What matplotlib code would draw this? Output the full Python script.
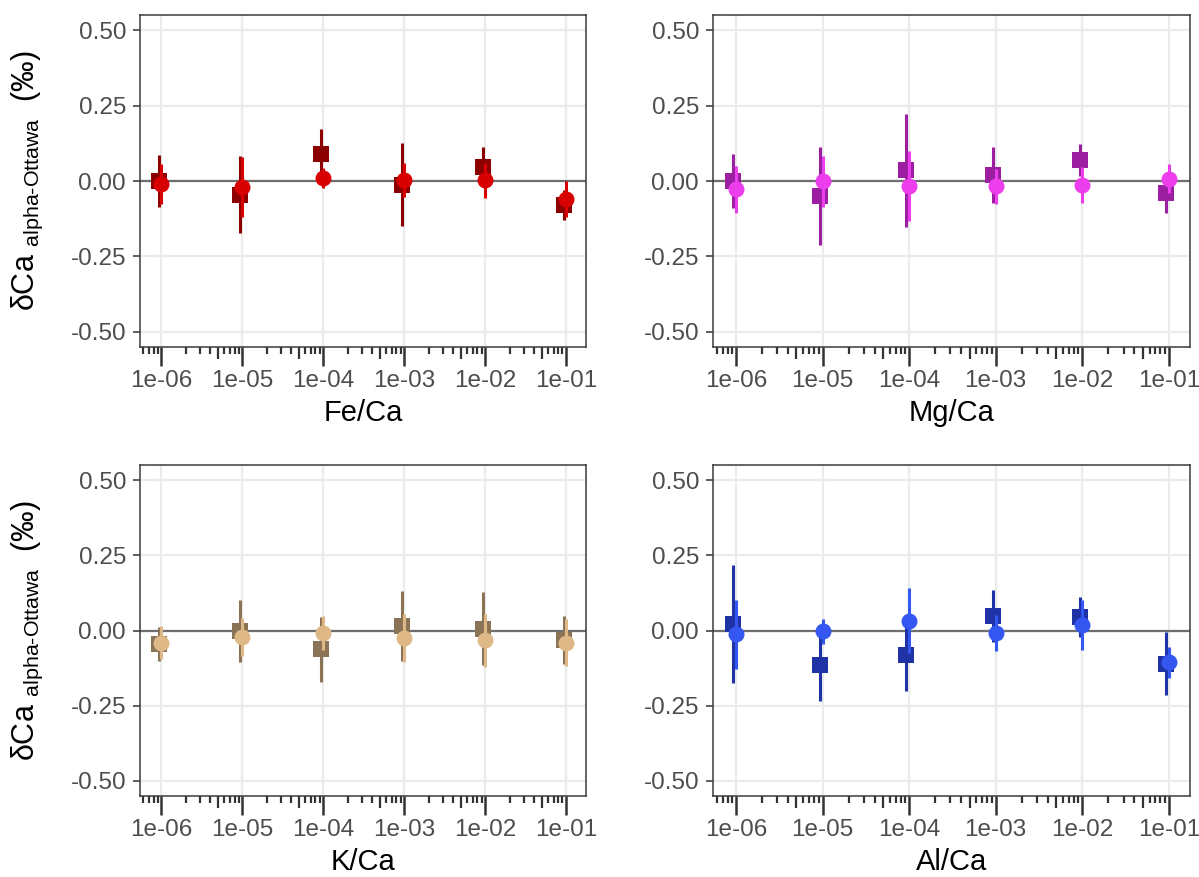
import numpy as np
import matplotlib
matplotlib.use('Agg')
import matplotlib.pyplot as plt
from matplotlib.ticker import FixedLocator, LogLocator, FuncFormatter, NullFormatter

plt.rcParams['font.family'] = ['Liberation Sans', 'DejaVu Sans']
plt.rcParams['mathtext.fontset'] = 'custom'
plt.rcParams['mathtext.rm'] = 'Liberation Sans'
plt.rcParams['axes.unicode_minus'] = False

# x positions (element/Ca ratio) shared by all panels
ratio = [1e-6, 1e-5, 1e-4, 1e-3, 1e-2, 1e-1]

# Fe/Ca
fe_sq = [0.00, -0.045, 0.088, -0.012, 0.047, -0.079]
fe_sq_err = [0.086, 0.127, 0.083, 0.137, 0.066, 0.050]
fe_ci = [-0.010, -0.020, 0.009, 0.003, 0.002, -0.059]
fe_ci_err = [0.065, 0.100, 0.033, 0.055, 0.057, 0.060]

# Mg/Ca
mg_sq = [0.000, -0.050, 0.036, 0.019, 0.069, -0.041]
mg_sq_err = [0.088, 0.161, 0.187, 0.092, 0.052, 0.064]
mg_ci = [-0.028, -0.001, -0.017, -0.018, -0.012, 0.008]
mg_ci_err = [0.077, 0.085, 0.117, 0.058, 0.060, 0.047]

# K/Ca
k_sq = [-0.044, -0.003, -0.063, 0.015, 0.006, -0.031]
k_sq_err = [0.057, 0.103, 0.108, 0.117, 0.121, 0.079]
k_ci = [-0.041, -0.022, -0.009, -0.025, -0.033, -0.041]
k_ci_err = [0.055, 0.063, 0.057, 0.080, 0.088, 0.078]

# Al/Ca
al_sq = [0.022, -0.114, -0.083, 0.048, 0.046, -0.110]
al_sq_err = [0.195, 0.119, 0.118, 0.086, 0.066, 0.106]
al_ci = [-0.013, -0.003, 0.033, -0.007, 0.018, -0.106]
al_ci_err = [0.115, 0.042, 0.109, 0.060, 0.084, 0.051]

y_ticks = [-0.50, -0.25, 0.00, 0.25, 0.50]
ylabel = r'δCa $_{\text{alpha-Ottawa}}$  (‰)'

panels = [
    ('Fe/Ca', fe_sq, fe_sq_err, fe_ci, fe_ci_err, '#8B0000', '#D80000'),
    ('Mg/Ca', mg_sq, mg_sq_err, mg_ci, mg_ci_err, '#9C1FA2', '#EC3EEC'),
    ('K/Ca', k_sq, k_sq_err, k_ci, k_ci_err, '#8B7355', '#DEB887'),
    ('Al/Ca', al_sq, al_sq_err, al_ci, al_ci_err, '#1F33A6', '#3357F0'),
]

W, H = 1199, 877
fig = plt.figure(figsize=(W / 100, H / 100), dpi=100)
# panel boxes in pixels: left, top, right, bottom
boxes = [(140, 15, 586, 347), (713, 15, 1190, 347),
         (140, 465, 586, 796), (713, 465, 1190, 796)]

tick_col = '#333333'
for i, (name, sq, sq_e, ci, ci_e, c_sq, c_ci) in enumerate(panels):
    l, t, r, b = boxes[i]
    ax = fig.add_axes([l / W, 1 - b / H, (r - l) / W, (b - t) / H])
    ax.set_xscale('log')
    ax.set_xlim(10 ** -6.265, 10 ** -0.755)
    ax.set_ylim(-0.55, 0.55)

    ax.axhline(0, color='#6E6E6E', lw=1.6, zorder=1)
    x = np.array(ratio)
    xs = x * 10 ** -0.03
    ax.errorbar(xs, sq, yerr=sq_e, fmt='s', color=c_sq, ms=11.5, mew=0,
                elinewidth=2.2, capsize=0, zorder=3)
    ax.errorbar(x, ci, yerr=ci_e, fmt='o', color=c_ci, ms=11.5, mew=0,
                elinewidth=2.2, capsize=0, zorder=4)

    # axes / grid
    ax.yaxis.set_major_locator(FixedLocator(y_ticks))
    ax.yaxis.set_major_formatter(FuncFormatter(lambda v, p: f'{v:.2f}'))
    ax.xaxis.set_major_locator(FixedLocator(ratio))
    ax.xaxis.set_major_formatter(FuncFormatter(lambda v, p: f'{v:.0e}'))
    ax.xaxis.set_minor_locator(LogLocator(base=10, subs=(2, 3, 4, 6, 7, 8, 9), numticks=100))
    ax.xaxis.set_minor_formatter(NullFormatter())
    ax.grid(True, which='major', color='#EBEBEB', lw=1.6, zorder=0)
    ax.set_axisbelow(True)
    for s in ax.spines.values():
        s.set_color('#3A3A3A')
        s.set_linewidth(1.1)
    ax.tick_params(axis='y', length=5, width=1.1, color=tick_col,
                   labelsize=17.5, labelcolor='#4D4D4D', pad=5)
    ax.tick_params(axis='x', which='major', length=13.4, width=1.8, color=tick_col,
                   labelsize=17.5, labelcolor='#4D4D4D', pad=3)
    ax.tick_params(axis='x', which='minor', length=5.2, width=1.6, color=tick_col)

    # mid log ticks at 5 x 10^n
    sec = ax.secondary_xaxis('bottom')
    sec.xaxis.set_major_locator(LogLocator(base=10, subs=(5,), numticks=100))
    sec.xaxis.set_minor_locator(FixedLocator([]))
    sec.tick_params(axis='x', which='major', length=8.6, width=1.6, color=tick_col,
                    labelbottom=False)
    sec.spines['bottom'].set_visible(False)

    ax.set_xlabel(name, fontsize=21, color='black', labelpad=5)

    if i % 2 == 0:
        yc = 1 - (t + b) / 2 / H
        fig.text(27 / W, yc, ylabel, rotation=90, ha='center', va='center',
                 fontsize=22, color='black')

fig.savefig('out.png', dpi=100)
